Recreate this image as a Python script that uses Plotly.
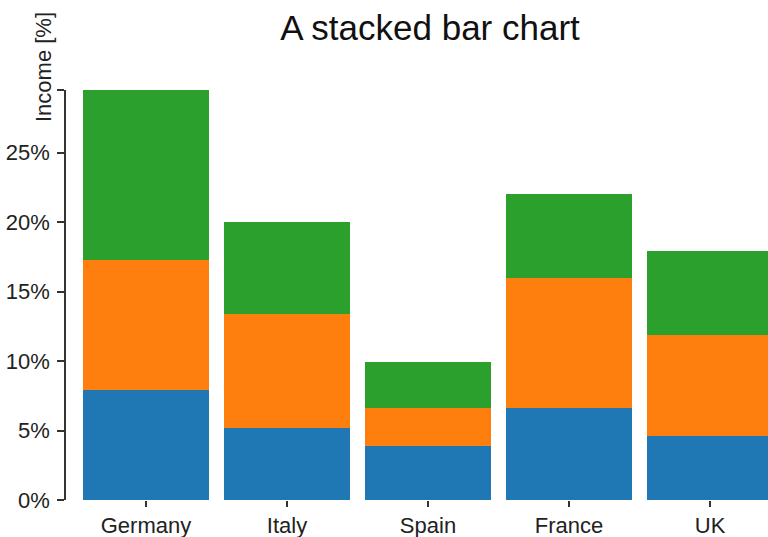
import plotly.graph_objects as go

# data
countries = ["Germany", "Italy", "Spain", "France", "UK"]
part_a = [7.9, 5.2, 3.9, 6.6, 4.6]
part_b = [9.4, 8.2, 2.7, 9.4, 7.3]
part_c = [12.2, 6.6, 3.3, 6.0, 6.0]
y_ticks = [0, 5, 10, 15, 20, 25, 29.5]
y_tick_text = ["0%", "5%", "10%", "15%", "20%", "25%", ""]

colors = ["#1f77b4", "#ff7f0e", "#2ca02c"]
FONT = "Liberation Sans, Arial, sans-serif"

fig = go.Figure()
for vals, col in zip([part_a, part_b, part_c], colors):
    fig.add_trace(go.Bar(x=countries, y=vals, marker_color=col,
                         marker_line_width=0, showlegend=False))

fig.update_layout(
    width=768, height=537,
    barmode="stack", bargap=0.106,
    margin=dict(l=66, r=0, t=90, b=37),
    plot_bgcolor="white", paper_bgcolor="white",
    font=dict(family=FONT, size=22, color="#222"),
    title=dict(text="A stacked bar chart", x=(430 - 66) / 702, xref="paper",
               xanchor="center", y=1 - 28 / 537, yanchor="middle",
               font=dict(size=35, color="#111")),
)
fig.update_xaxes(range=[-0.567, 4.411], showline=False, ticks="outside",
                 ticklen=6, tickcolor="#333", tickwidth=1.5, showgrid=False,
                 zeroline=False, automargin=False, ticklabelstandoff=0)
fig.update_yaxes(range=[0, 29.5], tickvals=y_ticks, ticktext=y_tick_text,
                 showline=True, linecolor="#333", linewidth=1.5,
                 ticks="outside", ticklen=7, tickcolor="#333", tickwidth=1.5,
                 showgrid=False, zeroline=False, ticklabelstandoff=3,
                 automargin=False)

fig.add_annotation(text="Income [%]", xref="paper", yref="paper",
                   x=(44 - 66) / 702, y=(500 - 67) / 410, textangle=-90,
                   xanchor="center", yanchor="middle", showarrow=False,
                   font=dict(size=22, color="#222"))

# page has a default body margin; drop it so the figure fills the window
fig.write_html("out.html", config={"displayModeBar": False},
               post_script="document.body.style.margin='0';")
